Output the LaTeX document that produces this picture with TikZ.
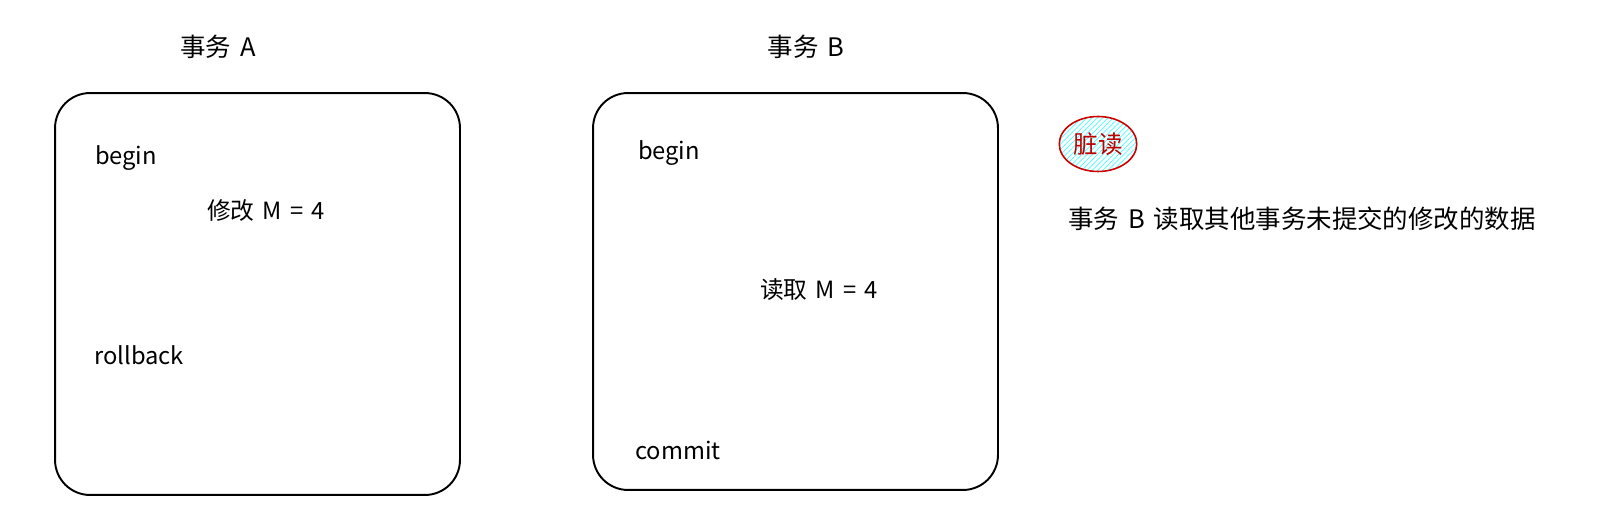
\documentclass[tikz,border=0pt]{standalone}
\usepackage{fontspec}
\setmainfont{Noto Sans CJK SC}
\usetikzlibrary{shapes,positioning,patterns}
\tikzstyle{txbox} = [rectangle, draw, line width=1.1pt, rounded corners=0.7cm, minimum width=8.1cm, inner sep=0pt]
\tikzstyle{title} = [inner sep=0pt, font=\fontsize{14.5}{17}\selectfont]
\tikzstyle{stmt} = [inner sep=0pt, font=\fontsize{13.5}{16}\selectfont]
\tikzstyle{tag} = [ellipse, draw=red!80!black, line width=0.9pt, pattern=north east lines, pattern color=cyan!70, minimum width=1.55cm, minimum height=1.1cm, inner sep=0pt, text=red!75!black, font=\fontsize{14}{17}\selectfont]
\newcommand{\gap}{\hspace{0.35em}}

\begin{document}
\begin{tikzpicture}[x=0.02cm, y=-0.02cm]
	\useasboundingbox (0,0) rectangle (1598,530);
	% Transaction A
	\node [txbox, minimum height=8.04cm] (boxA) at (257.5,294) {};
	\node [title] (titleA) at (218,47) {事务\gap\itshape A};
	\node [stmt] (beginA) at (126,158) {begin};
	\node [stmt] (modify) at (266,211) {修改\gap M\gap =\gap 4};
	\node [stmt] (rollback) at (139,355) {rollback};
	
	% Transaction B
	\node [txbox, minimum height=7.94cm] (boxB) at (795.5,291.5) {};
	\node [title] (titleB) at (806,47) {事务\gap B};
	\node [stmt] (beginB) at (669,153) {begin};
	\node [stmt] (read) at (819,290) {读取\gap M\gap =\gap 4};
	\node [stmt] (commit) at (678,450) {commit};
	
	% Note
	\node [tag] (dirty) at (1098,144) {脏读};
	\node [title] (note) at (1302,219) {事务\gap B\gap 读取其他事务未提交的修改的数据};
\end{tikzpicture}
\end{document}
